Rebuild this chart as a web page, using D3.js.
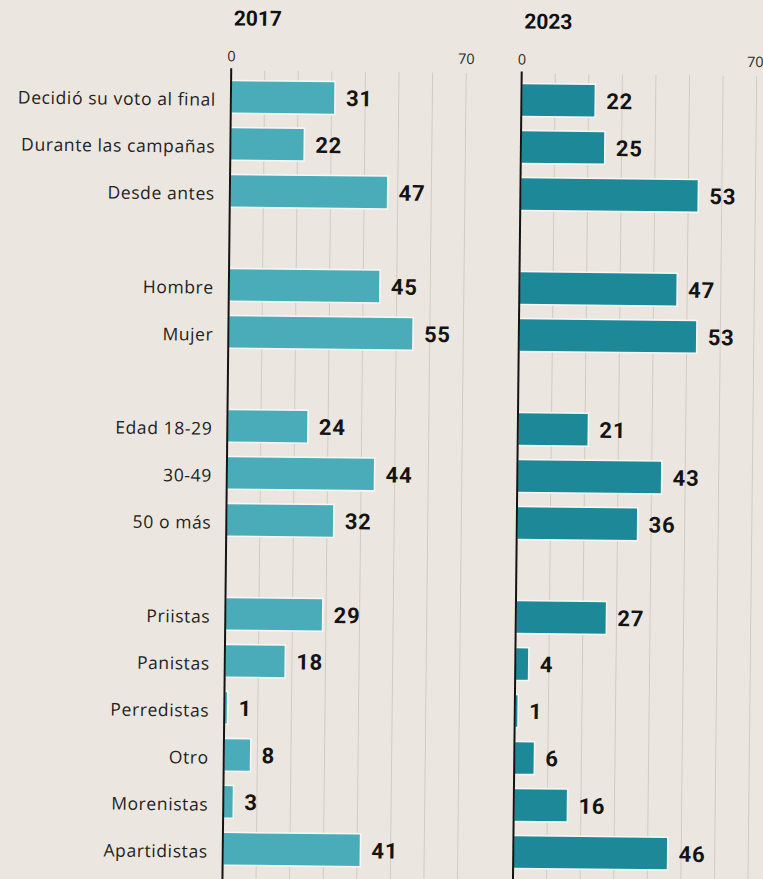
<!DOCTYPE html>
<html>
<head>
<meta charset="utf-8">
<script src="https://cdn.jsdelivr.net/npm/d3@7/dist/d3.min.js"></script>
<style>
  html, body { margin: 0; padding: 0; background: #ebe7e0; }
  svg { display: block; }
</style>
</head>
<body>
<svg id="chart" width="763" height="879"></svg>
<script>
// ---- Data ----
const categories = ["Decidió su voto al final", "Durante las campañas", "Desde antes",
  "Hombre", "Mujer",
  "Edad 18-29", "30-49", "50 o más",
  "Priistas", "Panistas", "Perredistas", "Otro", "Morenistas", "Apartidistas"];
const slots = [0, 1, 2, 4, 5, 7, 8, 9, 11, 12, 13, 14, 15, 16];
const values2017 = [31, 22, 47, 45, 55, 24, 44, 32, 29, 18, 1, 8, 3, 41];
const values2023 = [22, 25, 53, 47, 53, 21, 43, 36, 27, 4, 1, 6, 16, 46];
const years = ["2017", "2023"];
const axisTicks = [0, 70];
const gridTicks = [10, 20, 30, 40, 50, 60, 70];

const W = 763, H = 879;
const svg = d3.select("#chart");

svg.append("rect").attr("width", W).attr("height", H).attr("fill", "#ebe7e0");

const g = svg.append("g").attr("transform", "rotate(0.62, 381, 460)");

const y = d3.scalePoint().domain(d3.range(17)).range([98.5, 850.5]);
const barH = y.step() * 0.70;

const panels = [
  { year: years[0], values: values2017, x0: 227, color: "#4aacb8" },
  { year: years[1], values: values2023, x0: 517.5, color: "#1d8898" }
];

panels.forEach(p => {
  const x = d3.scaleLinear().domain([0, 70]).range([p.x0, p.x0 + 235]);
  const pg = g.append("g");

  // grid lines
  pg.selectAll("line.grid").data(gridTicks).join("line")
    .attr("class", "grid")
    .attr("x1", d => x(d)).attr("x2", d => x(d))
    .attr("y1", 72).attr("y2", 890)
    .attr("stroke", "#d0cbc4").attr("stroke-width", 1);

  // title
  pg.append("text").attr("x", x(0) + 2).attr("y", 27)
    .attr("font-family", "Roboto, 'Open Sans', sans-serif")
    .attr("font-weight", 700).attr("font-size", 21).attr("fill", "#111")
    .text(p.year);

  // tick labels
  pg.selectAll("text.tick").data(axisTicks).join("text")
    .attr("class", "tick")
    .attr("x", d => Math.min(x(d), W - 12))
    .attr("y", 63)
    .attr("text-anchor", "middle")
    .attr("font-family", "'Open Sans', sans-serif")
    .attr("font-size", 14.5).attr("fill", "#2a2a2a")
    .text(d => d);

  // bars
  pg.selectAll("rect.bar").data(p.values).join("rect")
    .attr("class", "bar")
    .attr("x", x(0))
    .attr("y", (d, i) => y(slots[i]) - barH / 2)
    .attr("width", d => x(d) - x(0))
    .attr("height", barH)
    .attr("fill", p.color)
    .attr("stroke", "#f7f8f6").attr("stroke-width", 1.5);

  // value labels
  pg.selectAll("text.val").data(p.values).join("text")
    .attr("class", "val")
    .attr("x", d => x(d) + 11)
    .attr("y", (d, i) => y(slots[i]) + 8)
    .attr("font-family", "Roboto, 'Open Sans', sans-serif")
    .attr("font-weight", 700).attr("font-size", 22)
    .attr("letter-spacing", 0.8).attr("fill", "#141414")
    .text(d => d);

  // axis line
  pg.append("line")
    .attr("x1", x(0)).attr("x2", x(0))
    .attr("y1", 70).attr("y2", 890)
    .attr("stroke", "#141414").attr("stroke-width", 2);
});

// category labels
g.selectAll("text.cat").data(categories).join("text")
  .attr("class", "cat")
  .attr("x", 212)
  .attr("y", (d, i) => y(slots[i]) + 9)
  .attr("text-anchor", "end")
  .attr("font-family", "'Open Sans', sans-serif")
  .attr("font-size", 17.5).attr("letter-spacing", 0.6).attr("fill", "#222")
  .text(d => d);
</script>
</body>
</html>
